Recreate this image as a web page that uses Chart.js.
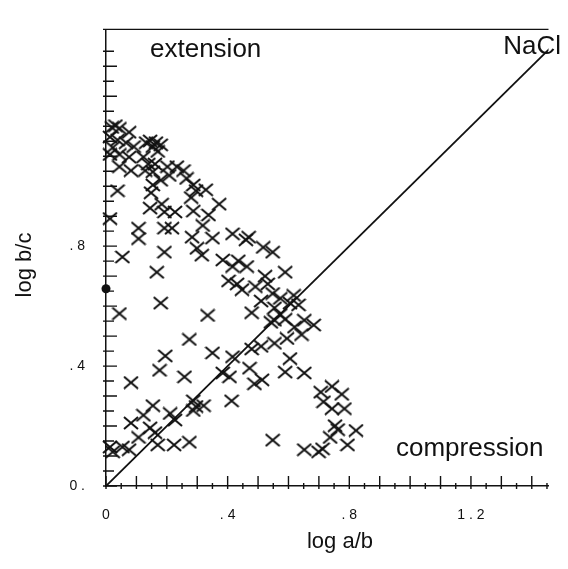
<!DOCTYPE html>
<html lang="en">
<head>
<meta charset="UTF-8">
<title>log b/c against log a/b</title>
<script src="https://cdn.jsdelivr.net/npm/chart.js"></script>
<style>
  html, body { margin: 0; padding: 0; background: #fff; }
  #wrap { width: 568px; height: 569px; }
</style>
</head>
<body>
<div id="wrap"><canvas id="shapeChart" width="568" height="569"></canvas></div>
<script>
// values (log a/b, log b/c), one cross each
const logAB = [
  0.019, 0.044, 0.076, 0.013, 0.038, 0.066, 0.091, 0.022, 0.013, 0.044,
  0.076, 0.132, 0.154, 0.170, 0.180, 0.123, 0.139, 0.161, 0.044, 0.082,
  0.129, 0.154, 0.202, 0.233, 0.180, 0.154, 0.208, 0.255, 0.265, 0.287,
  0.296, 0.328, 0.038, 0.148, 0.280, 0.372, 0.145, 0.183, 0.192, 0.227,
  0.287, 0.337, 0.013, 0.107, 0.192, 0.217, 0.318, 0.283, 0.350, 0.416,
  0.460, 0.469, 0.107, 0.054, 0.192, 0.299, 0.315, 0.384, 0.435, 0.167,
  0.403, 0.447, 0.044, 0.180, 0.334, 0.274, 0.350, 0.195, 0.416, 0.517,
  0.548, 0.416, 0.463, 0.523, 0.589, 0.431, 0.491, 0.532, 0.548, 0.573,
  0.617, 0.633, 0.510, 0.479, 0.554, 0.573, 0.554, 0.589, 0.605, 0.620,
  0.652, 0.683, 0.643, 0.595, 0.554, 0.510, 0.479, 0.605, 0.542, 0.176,
  0.082, 0.258, 0.154, 0.123, 0.211, 0.227, 0.082, 0.145, 0.161, 0.107,
  0.170, 0.224, 0.274, 0.013, 0.022, 0.054, 0.076, 0.287, 0.296, 0.321,
  0.287, 0.384, 0.406, 0.413, 0.472, 0.488, 0.513, 0.589, 0.652, 0.706,
  0.743, 0.775, 0.715, 0.743, 0.784, 0.753, 0.762, 0.737, 0.822, 0.794,
  0.548, 0.652, 0.699, 0.712, 0.145, 0.164, 0.031
];
const logBC = [
  1.196, 1.193, 1.180, 1.164, 1.154, 1.145, 1.132, 1.129, 1.106, 1.106,
  1.097, 1.145, 1.132, 1.116, 1.138, 1.097, 1.074, 1.074, 1.065, 1.052,
  1.052, 1.048, 1.065, 1.065, 1.020, 1.004, 1.036, 1.052, 1.026, 1.004,
  0.985, 0.988, 0.985, 0.978, 0.962, 0.940, 0.927, 0.940, 0.914, 0.914,
  0.917, 0.904, 0.892, 0.860, 0.860, 0.860, 0.869, 0.830, 0.827, 0.841,
  0.821, 0.830, 0.825, 0.764, 0.780, 0.793, 0.770, 0.754, 0.751, 0.713,
  0.684, 0.655, 0.575, 0.610, 0.569, 0.489, 0.444, 0.434, 0.431, 0.796,
  0.780, 0.732, 0.732, 0.700, 0.713, 0.674, 0.665, 0.674, 0.642, 0.626,
  0.636, 0.604, 0.617, 0.578, 0.594, 0.572, 0.553, 0.556, 0.610, 0.530,
  0.553, 0.537, 0.505, 0.492, 0.476, 0.466, 0.457, 0.425, 0.546, 0.386,
  0.345, 0.364, 0.268, 0.236, 0.242, 0.220, 0.210, 0.194, 0.178, 0.162,
  0.137, 0.137, 0.146, 0.130, 0.114, 0.130, 0.121, 0.284, 0.265, 0.268,
  0.252, 0.377, 0.364, 0.284, 0.393, 0.341, 0.354, 0.380, 0.377, 0.313,
  0.332, 0.306, 0.281, 0.258, 0.258, 0.201, 0.188, 0.162, 0.185, 0.137,
  0.153, 0.121, 0.114, 0.124, 1.151, 1.145, 1.202
];
// the single filled dot on the axis
const dotAB = [0];
const dotBC = [0.658];
// NaCl reference line, log b/c = log a/b
const naclLine = [0, 1.6];

const xLabelValues = [0, 0.4, 0.8, 1.2];
const xLabelText = ['0', '. 4', '. 8', '1 . 2'];
const yLabelValues = [0, 0.4, 0.8];
const yLabelText = ['0 .', '. 4', '. 8'];

const ink = '#111';

function makeCross(w, h, lw) {
  const c = document.createElement('canvas');
  c.width = w;
  c.height = h;
  const g = c.getContext('2d');
  g.strokeStyle = ink;
  g.lineWidth = lw;
  g.beginPath();
  g.moveTo(1, 1); g.lineTo(w - 1, h - 1);
  g.moveTo(w - 1, 1); g.lineTo(1, h - 1);
  g.stroke();
  return c;
}

function stepTicks(scale) {
  const out = [];
  for (let i = 0; i <= 29; i++) out.push({ value: i * 5 / 100 });
  scale.ticks = out;
}

function pickLabel(values, texts) {
  return (value) => {
    const i = values.findIndex(v => Math.abs(v - value) < 1e-6);
    return i >= 0 ? texts[i] : '';
  };
}

const tickMarks = {
  id: 'tickMarks',
  afterDatasetsDraw(chart) {
    const { ctx, chartArea: a, scales: { x, y } } = chart;
    ctx.save();
    ctx.strokeStyle = ink;
    ctx.lineWidth = 1.4;
    ctx.beginPath();
    x.ticks.forEach(t => {
      const px = x.getPixelForValue(t.value);
      const major = Math.round(t.value * 100) % 10 === 0;
      ctx.moveTo(px, a.bottom + 3);
      ctx.lineTo(px, a.bottom - (major ? 10 : 3));
    });
    y.ticks.forEach(t => {
      const py = y.getPixelForValue(t.value);
      const major = Math.round(t.value * 100) % 10 === 0;
      ctx.moveTo(a.left - 3, py);
      ctx.lineTo(a.left + (major ? 11 : 8), py);
    });
    ctx.moveTo(a.left - 3, a.top);
    ctx.lineTo(a.right, a.top);
    ctx.stroke();
    ctx.restore();
  }
};

const labelsText = {
  id: 'labelsText',
  afterDraw(chart) {
    const ctx = chart.ctx;
    ctx.save();
    ctx.fillStyle = ink;
    ctx.textBaseline = 'alphabetic';
    ctx.font = '26px "Liberation Sans", Arial, sans-serif';
    ctx.textAlign = 'left';
    ctx.fillText('extension', 150, 57);
    ctx.fillText('compression', 396, 456);
    ctx.textAlign = 'right';
    ctx.fillText('NaCl', 561, 54);

    ctx.font = '22px "Liberation Sans", Arial, sans-serif';
    ctx.textAlign = 'center';
    ctx.textBaseline = 'middle';
    ctx.fillText('log a/b', 340, 542);
    ctx.translate(25, 265);
    ctx.rotate(-Math.PI / 2);
    ctx.fillText('log b/c', 0, 0);
    ctx.restore();
  }
};

const crossMark = makeCross(16, 14, 2);

new Chart(document.getElementById('shapeChart'), {
  type: 'scatter',
  data: {
    datasets: [
      {
        label: 'grains',
        data: logAB.map((v, i) => ({ x: v, y: logBC[i] })),
        pointStyle: crossMark,
        pointRadius: 7,
        pointHoverRadius: 7,
        clip: false
      },
      {
        label: 'dot',
        data: dotAB.map((v, i) => ({ x: v, y: dotBC[i] })),
        pointStyle: 'circle',
        pointRadius: 4.5,
        backgroundColor: ink,
        borderColor: ink,
        borderWidth: 0,
        clip: false
      },
      {
        label: 'NaCl',
        type: 'line',
        data: naclLine.map(v => ({ x: v, y: v })),
        borderColor: ink,
        borderWidth: 1.8,
        pointRadius: 0,
        fill: false
      }
    ]
  },
  options: {
    responsive: false,
    animation: false,
    devicePixelRatio: 1,
    layout: { padding: { top: 10, right: 0, left: 0, bottom: 0 } },
    plugins: {
      legend: { display: false },
      tooltip: { enabled: false }
    },
    scales: {
      x: {
        type: 'linear',
        min: 0,
        max: 1.455,
        afterBuildTicks: stepTicks,
        afterFit: s => { s.height = 83; },
        grid: { display: false, drawTicks: false },
        border: { display: true, color: ink, width: 1.5 },
        ticks: {
          autoSkip: false,
          maxRotation: 0,
          padding: 21,
          color: ink,
          font: { family: '"Liberation Sans", Arial, sans-serif', size: 14 },
          callback: pickLabel(xLabelValues, xLabelText)
        }
      },
      y: {
        type: 'linear',
        min: 0,
        max: 1.523,
        afterBuildTicks: stepTicks,
        afterFit: s => { s.width = 106; },
        grid: { display: false, drawTicks: false },
        border: { display: true, color: ink, width: 1.5 },
        ticks: {
          autoSkip: false,
          padding: 21,
          color: ink,
          font: { family: '"Liberation Sans", Arial, sans-serif', size: 14 },
          callback: pickLabel(yLabelValues, yLabelText)
        }
      }
    }
  },
  plugins: [tickMarks, labelsText]
});
</script>
</body>
</html>
